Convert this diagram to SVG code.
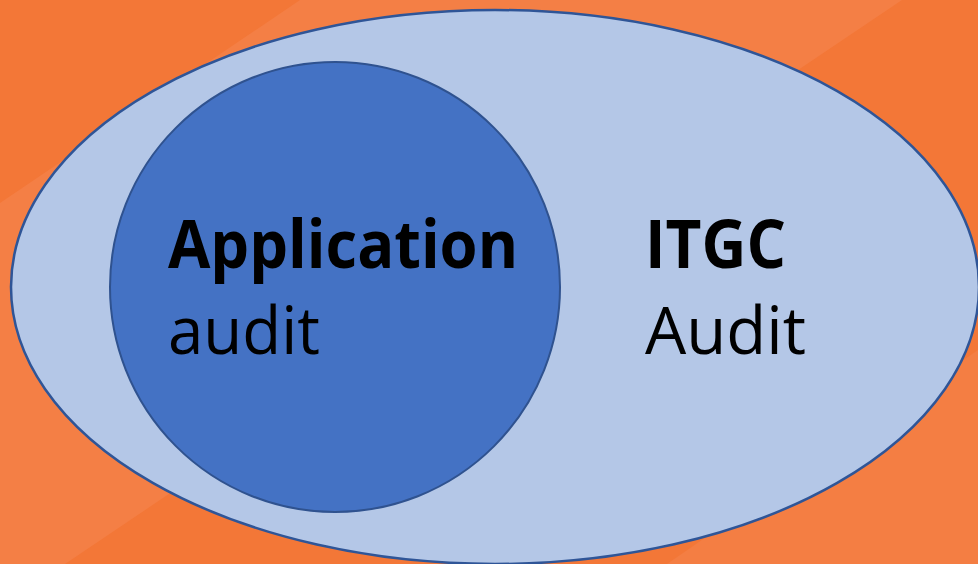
<svg xmlns="http://www.w3.org/2000/svg" width="978" height="564" viewBox="0 0 978 564">
<style>
.lbl{font-family:"Open Sans","Liberation Sans",sans-serif;fill:#000}
.b{font-weight:bold;font-size:66px}
.r{font-weight:normal;font-size:66px}
</style>
<g id="background">
<rect x="0" y="0" width="978" height="564" fill="#F37737"/>
<polygon points="0,203 300,0 902,0 65,564 0,564" fill="#F47F45"/>
<polygon points="667,564 978,350 978,564" fill="#F47E43"/>
</g>
<g id="itgc">
<ellipse cx="495" cy="287" rx="484" ry="277" fill="#B4C7E7" stroke="#2F5597" stroke-width="2.5"/>
<text class="lbl b" x="645" y="268" textLength="141" lengthAdjust="spacingAndGlyphs">ITGC</text>
<text class="lbl r" x="645" y="354" textLength="161" lengthAdjust="spacingAndGlyphs">Audit</text>
</g>
<g id="application">
<circle cx="335" cy="287" r="225" fill="#4472C4" stroke="#2F528F" stroke-width="2"/>
<text class="lbl b" x="168" y="268" textLength="350" lengthAdjust="spacingAndGlyphs">Application</text>
<text class="lbl r" x="168" y="354" textLength="152" lengthAdjust="spacingAndGlyphs">audit</text>
</g>
<g id="connectors"/>
</svg>
